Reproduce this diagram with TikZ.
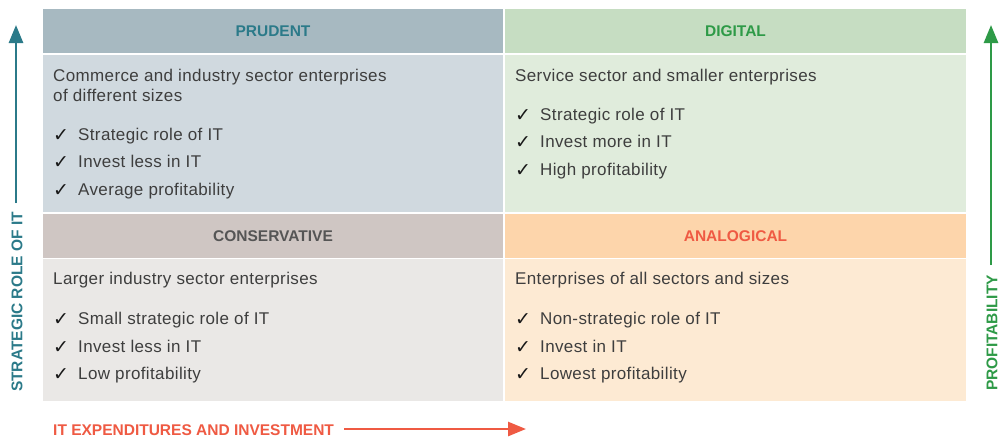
\documentclass[tikz,border=0pt]{standalone}
\usepackage{fontspec}
\setmainfont{Liberation Sans}
\newfontfamily\symfont{DejaVu Sans}
\usetikzlibrary{arrows.meta}
\definecolor{prudH}{HTML}{A7B9C1}
\definecolor{prudB}{HTML}{D0D9DF}
\definecolor{digH}{HTML}{C6DDC2}
\definecolor{digB}{HTML}{E0ECDC}
\definecolor{conH}{HTML}{CFC6C3}
\definecolor{conB}{HTML}{EAE8E6}
\definecolor{anaH}{HTML}{FDD5AB}
\definecolor{anaB}{HTML}{FDEAD3}
\definecolor{tealT}{HTML}{2B7A89}
\definecolor{greenT}{HTML}{2E9A47}
\definecolor{grayT}{HTML}{555555}
\definecolor{redT}{HTML}{EF5A43}
\definecolor{bodyT}{HTML}{3E3E3E}
\tikzset{
  box/.style={draw=none, inner sep=0pt, outer sep=0pt, anchor=north west},
  head/.style={font=\fontsize{15.5}{18}\selectfont\bfseries, anchor=center},
  body/.style={font=\fontsize{17}{20}\selectfont\addfontfeature{LetterSpace=2.2}, text=bodyT, anchor=base west, inner sep=0pt},
  chk/.style={font=\symfont\fontsize{19}{20}\selectfont, text=black!90, anchor=base west, inner sep=0pt},
  axis/.style={font=\fontsize{15.5}{18}\selectfont\bfseries, inner sep=0pt},
  arr/.style={line width=2.6pt, -{Triangle[width=14pt,length=18pt]}},
}
\newcommand{\chkitem}[4]{%
  \node[chk] (#1c) at (#2,#3+1) {✓};
  \node[body] (#1) at (#2+25,#3) {#4};}
\begin{document}
\begin{tikzpicture}[x=1pt,y=-1pt]
\useasboundingbox[fill=white] (0,0) rectangle (1000,437);
% quadrants
\node[box, fill=prudH, minimum width=460pt, minimum height=44pt] (pH) at (43,9) {};
\node[box, fill=prudB, minimum width=460pt, minimum height=157pt] (pB) at (43,55) {};
\node[box, fill=digH, minimum width=461pt, minimum height=44pt] (dH) at (505,9) {};
\node[box, fill=digB, minimum width=461pt, minimum height=157pt] (dB) at (505,55) {};
\node[box, fill=conH, minimum width=460pt, minimum height=44pt] (cH) at (43,214) {};
\node[box, fill=conB, minimum width=460pt, minimum height=142pt] (cB) at (43,259) {};
\node[box, fill=anaH, minimum width=461pt, minimum height=44pt] (aH) at (505,214) {};
\node[box, fill=anaB, minimum width=461pt, minimum height=142pt] (aB) at (505,259) {};
% headers
\node[head, text=tealT] (pT) at (pH.center) {PRUDENT};
\node[head, text=greenT] (dT) at (dH.center) {DIGITAL};
\node[head, text=grayT] (cT) at (cH.center) {CONSERVATIVE};
\node[head, text=redT] (aT) at (aH.center) {ANALOGICAL};
% prudent body
\node[body] (p1) at (53,81) {Commerce and industry sector enterprises};
\node[body] (p2) at (53,101) {of different sizes};
\chkitem{p3}{53}{140}{Strategic role of IT}
\chkitem{p4}{53}{167}{Invest less in IT}
\chkitem{p5}{53}{195}{Average profitability}
% digital body
\node[body] (d1) at (515,81) {Service sector and smaller enterprises};
\chkitem{d2}{515}{120}{Strategic role of IT}
\chkitem{d3}{515}{147}{Invest more in IT}
\chkitem{d4}{515}{175}{High profitability}
% conservative body
\node[body] (c1) at (53,284) {Larger industry sector enterprises};
\chkitem{c2}{53}{324}{Small strategic role of IT}
\chkitem{c3}{53}{352}{Invest less in IT}
\chkitem{c4}{53}{379}{Low profitability}
% analogical body
\node[body] (a1) at (515,284) {Enterprises of all sectors and sizes};
\chkitem{a2}{515}{324}{Non-strategic role of IT}
\chkitem{a3}{515}{352}{Invest in IT}
\chkitem{a4}{515}{379}{Lowest profitability}
% axes
\node[axis, text=tealT, rotate=90] (yl) at (17,302) {STRATEGIC ROLE OF IT};
\coordinate (ylTop) at (16,25);
\coordinate (ylBot) at (16,203);
\draw[arr, draw=tealT, fill=tealT] (ylBot) -- (ylTop);
\node[axis, text=greenT, rotate=90] (yr) at (992,333) {PROFITABILITY};
\coordinate (yrTop) at (991,25);
\coordinate (yrBot) at (991,265);
\draw[arr, draw=greenT, fill=greenT] (yrBot) -- (yrTop);
\node[axis, text=redT, anchor=west] (xl) at (53,430) {IT EXPENDITURES AND INVESTMENT};
\coordinate (xlEnd) at (526,429);
\draw[arr, draw=redT, fill=redT] ([xshift=10pt,yshift=1pt]xl.east) -- (xlEnd);
\end{tikzpicture}
\end{document}
